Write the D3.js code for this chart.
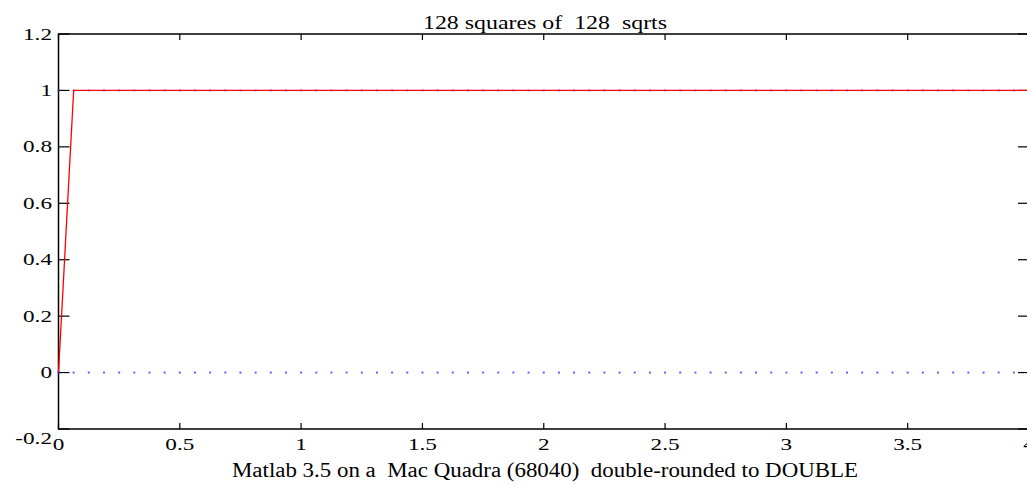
<!DOCTYPE html>
<html>
<head>
<meta charset="utf-8">
<script src="https://cdn.jsdelivr.net/npm/d3@7"></script>
<style>
  body { margin: 0; background: #fff; }
  text { font-family: "Liberation Serif", "Times New Roman", serif; white-space: pre; }
</style>
</head>
<body>
<svg id="chart" width="1027" height="487"></svg>
<script>
const TITLE = "128 squares of  128  sqrts";
const XLABEL = "Matlab 3.5 on a  Mac Quadra (68040)  double-rounded to DOUBLE";

const xTicks = [0, 0.5, 1, 1.5, 2, 2.5, 3, 3.5, 4];
const yTicks = [-0.2, 0, 0.2, 0.4, 0.6, 0.8, 1, 1.2];

// sample positions, step 1/16 from 0 to 4
const samples = d3.range(0, 65).map(k => k / 16);

// red: squares of sqrts
const redX = [0, 0.0625, 4];
const redY = [0, 1, 1];

// blue dotted series
const blueOnes = samples.map(x => ({ x: x, y: 1 }));
const blueZeros = samples.map(x => ({ x: x, y: 0 }));

const svg = d3.select("#chart");
const M = { left: 58.5, right: 1029, top: 34, bottom: 429 };
const STRETCH = 1.45; // text in the picture is drawn wide

const x = d3.scaleLinear().domain([0, 4]).range([M.left, M.right]);
const y = d3.scaleLinear().domain([-0.2, 1.2]).range([M.bottom, M.top]);

// stretch a text horizontally
function widen(sel, factor) {
    sel.each(function() {
        const w = this.getComputedTextLength();
        d3.select(this).attr("textLength", w * factor).attr("lengthAdjust", "spacingAndGlyphs");
    });
}

// frame
svg.append("rect")
    .attr("x", M.left).attr("y", M.top)
    .attr("width", M.right - M.left).attr("height", M.bottom - M.top)
    .attr("fill", "none").attr("stroke", "#000").attr("stroke-width", 1.5);

// ticks inside the frame
const tickG = svg.append("g").attr("stroke", "#000").attr("stroke-width", 1.2);
xTicks.forEach(t => {
    tickG.append("line").attr("x1", x(t)).attr("x2", x(t)).attr("y1", M.bottom).attr("y2", M.bottom - 6);
    tickG.append("line").attr("x1", x(t)).attr("x2", x(t)).attr("y1", M.top).attr("y2", M.top + 6);
});
yTicks.forEach(t => {
    tickG.append("line").attr("x1", M.left).attr("x2", M.left + 11).attr("y1", y(t)).attr("y2", y(t));
    tickG.append("line").attr("x1", M.right).attr("x2", M.right - 11).attr("y1", y(t)).attr("y2", y(t));
});

// tick labels
svg.append("g").attr("font-size", 16).attr("text-anchor", "middle")
    .selectAll("text").data(xTicks).join("text")
    .attr("x", d => x(d)).attr("y", 450)
    .text(d => d3.format("")(d))
    .call(widen, STRETCH);

svg.append("g").attr("font-size", 16).attr("text-anchor", "end")
    .selectAll("text").data(yTicks).join("text")
    .attr("x", 52)
    .attr("y", d => y(d) + (d === -0.2 ? 9 : 0))
    .attr("dy", "0.35em")
    .text(d => d === -0.2 ? "-0.2" : d3.format("")(d))
    .call(widen, STRETCH);

// blue dots at y = 1 (under red line)
svg.append("g").attr("fill", "#4040ff").attr("opacity", 0.6)
    .selectAll("rect").data(blueOnes).join("rect")
    .attr("x", d => x(d.x) - 1).attr("y", d => y(d.y) - 1)
    .attr("width", 2).attr("height", 2);

// red line
const line = d3.line().x(d => x(d[0])).y(d => y(d[1]));
svg.append("path")
    .datum(redX.map((v, i) => [v, redY[i]]))
    .attr("d", line)
    .attr("fill", "none").attr("stroke", "#ff0000").attr("stroke-width", 1.3);

// blue dots at y = 0
svg.append("g").attr("fill", "#3030ff").attr("opacity", 0.75)
    .selectAll("rect").data(blueZeros).join("rect")
    .attr("x", d => x(d.x) - 1).attr("y", d => y(d.y) - 1)
    .attr("width", 2).attr("height", 2);

svg.append("text")
    .attr("x", 545).attr("y", 29)
    .attr("text-anchor", "middle").attr("font-size", 19)
    .attr("textLength", 244).attr("lengthAdjust", "spacingAndGlyphs")
    .text(TITLE);

svg.append("text")
    .attr("x", 545).attr("y", 477)
    .attr("text-anchor", "middle").attr("font-size", 20)
    .attr("textLength", 626).attr("lengthAdjust", "spacingAndGlyphs")
    .text(XLABEL);
</script>
</body>
</html>
